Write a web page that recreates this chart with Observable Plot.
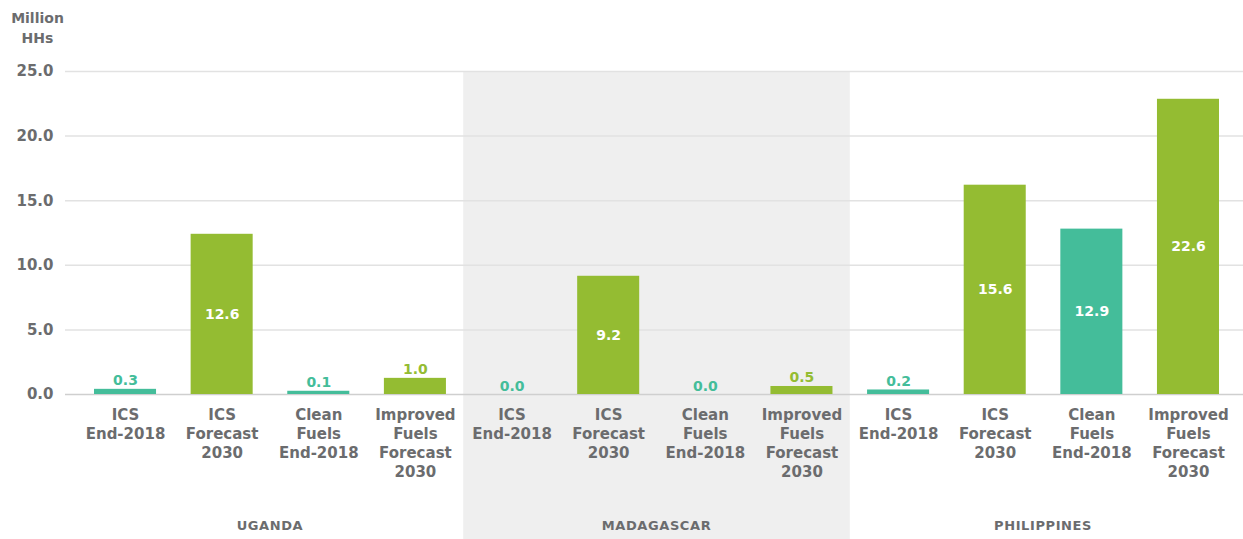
<!DOCTYPE html>
<html>
<head>
<meta charset="utf-8">
<script src="https://cdn.jsdelivr.net/npm/d3@7"></script>
<script src="https://cdn.jsdelivr.net/npm/@observablehq/plot@0.6"></script>
<style>
  html, body { margin: 0; padding: 0; background: #fff; }
  svg { display: block; }
</style>
</head>
<body>
<div id="chart"></div>
<script>
// ---- data ----
const countries = ["UGANDA", "MADAGASCAR", "PHILIPPINES"];
const metrics = ["ICS\nEnd-2018", "ICS\nForecast\n2030", "Clean\nFuels\nEnd-2018", "Improved\nFuels\nForecast\n2030"];
const metricColors = ["#44bd9a", "#94bc32", "#44bd9a", "#94bc32"];
// printed value labels
const ugandaLabels = ["0.3", "12.6", "0.1", "1.0"];
const madagascarLabels = ["0.0", "9.2", "0.0", "0.5"];
const philippinesLabels = ["0.2", "15.6", "12.9", "22.6"];
// bar heights as drawn in the picture
const ugandaBars = [0.4, 12.4, 0.25, 1.25];
const madagascarBars = [0, 9.15, 0, 0.62];
const philippinesBars = [0.35, 16.2, 12.8, 22.85];
const yTicks = [0, 5, 10, 15, 20, 25];
const highlighted = "MADAGASCAR";

const labelSets = [ugandaLabels, madagascarLabels, philippinesLabels];
const barSets = [ugandaBars, madagascarBars, philippinesBars];
const key = (c, i) => c + "|" + i;
const rows = [];
countries.forEach((c, ci) => metrics.forEach((m, mi) => rows.push({
  country: c, key: key(c, mi), metric: m, color: metricColors[mi],
  bar: barSets[ci][mi], label: labelSets[ci][mi], inside: barSets[ci][mi] > 5
})));
const domainX = rows.map(d => d.key);
const metricOf = new Map(rows.map(d => [d.key, d.metric]));

const font = "DejaVu Sans, sans-serif";
const grey = "#6b6c6e";

// background band behind the highlighted country
const band = (index, scales, values, dim) => {
  const x = scales.x, y = scales.y;
  const step = x(key(highlighted, 1)) - x(key(highlighted, 0));
  const x0 = x(key(highlighted, 0));
  const x1 = x(key(highlighted, 3)) + step;
  return d3.create("svg:rect")
    .attr("x", x0).attr("width", x1 - x0)
    .attr("y", y(25)).attr("height", dim.height - y(25))
    .attr("fill", "#efefef").node();
};

// country group labels
const groupLabels = (index, scales, values, dim) => {
  const x = scales.x;
  const g = d3.create("svg:g")
    .attr("font-family", font).attr("font-weight", "bold")
    .attr("font-size", 13).attr("fill", grey)
    .attr("letter-spacing", "0.6px").attr("text-anchor", "middle");
  countries.forEach(c => {
    const step = x(key(c, 1)) - x(key(c, 0));
    const cx = (x(key(c, 0)) + x(key(c, 3)) + step) / 2;
    g.append("text").attr("x", cx).attr("y", dim.height - 9).text(c);
  });
  return g.node();
};

const chart = Plot.plot({
  width: 1243,
  height: 539,
  marginTop: 71,
  marginBottom: 145,
  marginLeft: 65,
  marginRight: 0,
  style: { fontFamily: font, fontWeight: "bold", color: grey, background: "transparent" },
  x: { type: "band", domain: domainX, padding: 0, round: false, range: [76.7, 1236.3] },
  y: { domain: [0, 25] },
  marks: [
    band,
    Plot.ruleY(yTicks.filter(t => t > 0), { stroke: "#e2e2e2", strokeWidth: 1.5 }),
    Plot.ruleY([0], { stroke: "#cfcfcf", strokeWidth: 1.5 }),
    Plot.barY(rows, { x: "key", y: "bar", fill: "color", insetLeft: 17.3, insetRight: 17.3 }),
    Plot.text(rows.filter(d => d.inside), {
      x: "key", y: d => d.bar / 2, text: "label", fill: "white",
      fontSize: 14, fontWeight: "bold"
    }),
    Plot.text(rows.filter(d => !d.inside), {
      x: "key", y: "bar", text: "label", fill: "color",
      fontSize: 14, fontWeight: "bold", lineAnchor: "bottom", dy: -4
    }),
    Plot.axisY({
      ticks: yTicks, tickFormat: d3.format(".1f"), tickSize: 0, tickPadding: 12,
      fontSize: 15, label: null, fill: grey
    }),
    Plot.axisX({
      tickFormat: k => metricOf.get(k), tickSize: 0, tickPadding: 12,
      fontSize: 15, label: null, lineHeight: 1.27, fill: grey
    }),
    groupLabels,
    Plot.text(["Million\nHHs"], {
      frameAnchor: "top-left", dx: -28, dy: -62, text: d => d,
      fontSize: 14, fontWeight: "bold", fill: grey, lineHeight: 1.4, textAnchor: "middle"
    })
  ]
});
document.getElementById("chart").appendChild(chart);
</script>
</body>
</html>
